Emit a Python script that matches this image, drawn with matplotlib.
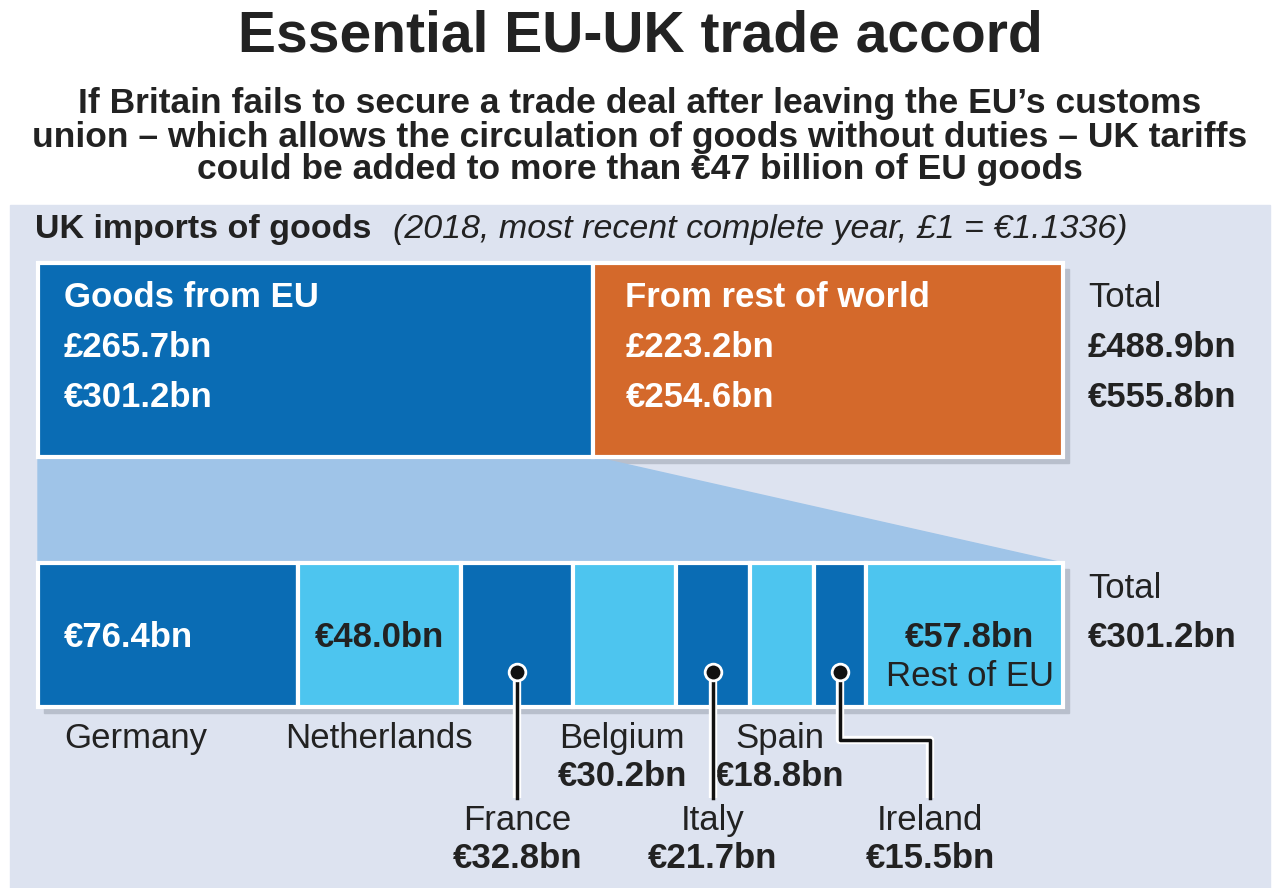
import matplotlib
matplotlib.use("Agg")
import matplotlib.pyplot as plt
from matplotlib.patches import Polygon, Rectangle

top_labels = ["Goods from EU", "From rest of world"]
top_gbp = [265.7, 223.2]
top_eur = [301.2, 254.6]
countries = ["Germany", "Netherlands", "France", "Belgium", "Italy", "Spain", "Ireland", "Rest of EU"]
country_eur = [76.4, 48.0, 32.8, 30.2, 21.7, 18.8, 15.5, 57.8]

DARK = "#0a6cb4"; ORANGE = "#d4692b"; LIGHT = "#4dc5ef"; BG = "#dde3f0"; FUN = "#9fc4e8"
FONT = "Liberation Sans"
plt.rcParams["font.family"] = FONT
FS = 25

fig = plt.figure(figsize=(12.77, 8.88), dpi=100)
ax = fig.add_axes([0, 0, 1, 1])
ax.set_xlim(0, 1277); ax.set_ylim(888, 0); ax.axis("off")

ax.add_patch(Rectangle((10, 205), 1260, 690, color=BG, zorder=0))
ax.text(640, 36, "Essential EU-UK trade accord", ha="center", va="center", fontsize=41, weight="bold", color="#222")
ax.text(640, 137, "If Britain fails to secure a trade deal after leaving the EU\u2019s customs\n"
        "union \u2013 which allows the circulation of goods without duties \u2013 UK tariffs\n"
        "could be added to more than \u20ac47 billion of EU goods",
        ha="center", va="center", fontsize=25.5, weight="bold", color="#222", linespacing=1.0)
ax.text(35, 229, "UK imports of goods", ha="left", va="center", fontsize=24.5, weight="bold", color="#222")
ax.text(393, 229, "(2018, most recent complete year, \u00a31 = \u20ac1.1336)", ha="left", va="center",
        fontsize=24.5, style="italic", color="#222")

X0, W = 38, 1025
tot = sum(top_eur)
s = W / tot
for y0, h in [(263, 194), (563, 144)]:
    ax.add_patch(Rectangle((X0 + 6, y0 + 6), W, h, color="#b8bfcc", zorder=1))
lefts = [X0, X0 + top_eur[0] * s]
ax.barh([360], [v * s for v in top_eur], left=lefts, height=194, color=[DARK, ORANGE],
        edgecolor="white", linewidth=3, zorder=2)
eu_end = X0 + top_eur[0] * s
ax.add_patch(Polygon([(X0, 457), (eu_end, 457), (X0 + W, 563), (X0, 563)], color=FUN, zorder=1))
offs = [26, 32]
for l, o, lab, g, e in zip(lefts, offs, top_labels, top_gbp, top_eur):
    for k, t in enumerate([lab, f"\u00a3{g:.1f}bn", f"\u20ac{e:.1f}bn"]):
        ax.text(l + o, 297 + k * 50, t, ha="left", va="center", fontsize=FS, weight="bold", color="white", zorder=3)
for k, t in enumerate(["Total", f"\u00a3{sum(top_gbp):.1f}bn", f"\u20ac{tot:.1f}bn"]):
    ax.text(1088, 297 + k * 50, t, ha="left", va="center", fontsize=FS, weight="normal" if k == 0 else "bold", color="#222")

s2 = W / sum(country_eur)
cl = [X0]
for v in country_eur[:-1]:
    cl.append(cl[-1] + v * s2)
cols = [DARK, LIGHT, DARK, LIGHT, DARK, LIGHT, DARK, LIGHT]
ax.barh([635], [v * s2 for v in country_eur], left=cl, height=144, color=cols,
        edgecolor="white", linewidth=3, zorder=2)
mid = [l + v * s2 / 2 for l, v in zip(cl, country_eur)]
ax.text(64, 637, f"\u20ac{country_eur[0]:.1f}bn", ha="left", va="center", fontsize=FS, weight="bold", color="white", zorder=3)
ax.text(mid[1], 637, f"\u20ac{country_eur[1]:.1f}bn", ha="center", va="center", fontsize=FS, weight="bold", color="#222", zorder=3)
ax.text(mid[7] + 5, 637, f"\u20ac{country_eur[7]:.1f}bn", ha="center", va="center", fontsize=FS, weight="bold", color="#222", zorder=3)
ax.text(mid[7] + 5, 676, "Rest of EU", ha="center", va="center", fontsize=FS, color="#222", zorder=3)
ax.text(1088, 588, "Total", ha="left", va="center", fontsize=FS, color="#222")
ax.text(1088, 637, f"\u20ac{sum(country_eur):.1f}bn", ha="left", va="center", fontsize=FS, weight="bold", color="#222")

ax.text(64, 738, countries[0], ha="left", va="center", fontsize=FS, color="#222")
ax.text(379, 738, countries[1], ha="center", va="center", fontsize=FS, color="#222")
for i in [3, 5]:
    ax.text(mid[i] - 2, 738, countries[i], ha="center", va="center", fontsize=FS, color="#222")
    ax.text(mid[i] - 2, 776, f"\u20ac{country_eur[i]:.1f}bn", ha="center", va="center", fontsize=FS, weight="bold", color="#222")
for i, lx in [(2, mid[2]), (4, mid[4]), (6, 930)]:
    ax.text(lx, 820, countries[i], ha="center", va="center", fontsize=FS, color="#222")
    ax.text(lx, 858, f"\u20ac{country_eur[i]:.1f}bn", ha="center", va="center", fontsize=FS, weight="bold", color="#222")
    if i == 6:
        xs, ys = [mid[i], mid[i], lx, lx], [672, 740, 740, 798]
    else:
        xs, ys = [mid[i], mid[i]], [672, 798]
    ax.plot(xs, ys, color="white", lw=6, zorder=4, solid_capstyle="butt")
    ax.plot(xs, ys, color="#111", lw=2.5, zorder=5)
    ax.plot(mid[i], 672, "o", ms=12, color="#111", mec="white", mew=2, zorder=6)

fig.savefig("out.png", dpi=100)
